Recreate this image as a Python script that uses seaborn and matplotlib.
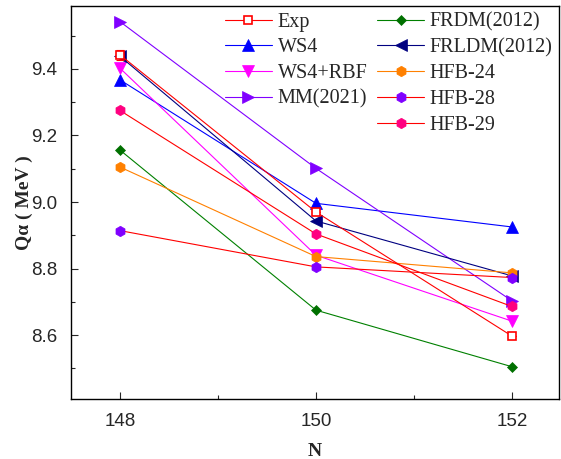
import numpy as np
import pandas as pd
import matplotlib
matplotlib.use("Agg")
import matplotlib.pyplot as plt
import seaborn as sns
from matplotlib.lines import Line2D

# neutron numbers
N = [148, 150, 152]

# Q-alpha values (MeV)
exp_q = [9.442, 8.970, 8.597]
ws4_q = [9.367, 8.996, 8.925]
ws4rbf_q = [9.402, 8.840, 8.642]
mm2021_q = [9.542, 9.101, 8.703]
frdm_q = [9.156, 8.675, 8.505]
frldm_q = [9.438, 8.943, 8.778]
hfb24_q = [9.105, 8.836, 8.787]
hfb28_q = [8.914, 8.805, 8.773]
hfb29_q = [9.275, 8.904, 8.686]

exp_err = [0.016, 0.0, 0.0]

models = ["Exp", "WS4", "WS4+RBF", "MM(2021)", "FRDM(2012)", "FRLDM(2012)",
          "HFB-24", "HFB-28", "HFB-29"]
values = [exp_q, ws4_q, ws4rbf_q, mm2021_q, frdm_q, frldm_q, hfb24_q, hfb28_q, hfb29_q]

# line colour, marker, marker face colour, marker size
styles = {
    "Exp": ("#ff0000", "s", "white", 6),
    "WS4": ("#0000ff", "^", "#0000ff", 8),
    "WS4+RBF": ("#ff00ff", "v", "#ff00ff", 8),
    "MM(2021)": ("#8000ff", ">", "#8000ff", 8),
    "FRDM(2012)": ("#008000", "D", "#007000", 5.5),
    "FRLDM(2012)": ("#000080", "<", "#000080", 8),
    "HFB-24": ("#ff8000", "h", "#ff8000", 7.5),
    "HFB-28": ("#ff0000", "h", "#8000ff", 7.5),
    "HFB-29": ("#ff0000", "h", "#ff0080", 7.5),
}

df = pd.DataFrame([(m, n, q) for m, vals in zip(models, values) for n, q in zip(N, vals)],
                  columns=["model", "N", "Q"])

sns.set_style("white")
plt.rcParams["font.family"] = ["Liberation Sans", "DejaVu Sans"]

fig = plt.figure(figsize=(5.61, 4.59), dpi=100)
ax = fig.add_axes([71 / 561, 1 - 399 / 459, 488 / 561, 393 / 459])

handles = {}
for m in models:
    col, mk, fc, ms = styles[m]
    sub = df[df["model"] == m]
    if m == "Exp":
        ax.errorbar(sub["N"], sub["Q"], yerr=exp_err, fmt="none", ecolor=col,
                    elinewidth=0.8, capsize=3, capthick=0.8, zorder=3)
    sns.lineplot(data=sub, x="N", y="Q", ax=ax, color=col, marker=mk,
                 markersize=ms, markerfacecolor=fc, markeredgecolor=fc if m != "Exp" else col,
                 markeredgewidth=1.2 if m == "Exp" else 0.5, linewidth=0.8, zorder=3 if m == "Exp" else 2)
    handles[m] = Line2D([], [], color=col, marker=mk, markersize=ms, markerfacecolor=fc,
                        markeredgecolor=fc if m != "Exp" else col,
                        markeredgewidth=1.2 if m == "Exp" else 0.5, linewidth=0.8)

blank = Line2D([], [], color="none")
order = ["Exp", "WS4", "WS4+RBF", "MM(2021)", None,
         "FRDM(2012)", "FRLDM(2012)", "HFB-24", "HFB-28", "HFB-29"]
leg_h = [handles[m] if m else blank for m in order]
leg_l = [m if m else "" for m in order]
ax.legend(leg_h, leg_l, ncol=2, loc="upper left", bbox_to_anchor=(0.312, 0.989),
          frameon=False, prop={"family": "Liberation Serif", "size": 14.5},
          handlelength=2.3, handletextpad=0.3, columnspacing=0.5,
          labelspacing=0.33, borderpad=0.1, borderaxespad=0.0)

ax.set_xlim(147.5, 152.48)
ax.set_ylim(8.408, 9.589)
ax.set_xticks([148, 150, 152])
ax.set_xticks([149, 151], minor=True)
ax.set_yticks([8.6, 8.8, 9.0, 9.2, 9.4])
ax.set_yticks([8.5, 8.7, 8.9, 9.1, 9.3, 9.5], minor=True)
ax.yaxis.set_major_formatter(matplotlib.ticker.FormatStrFormatter("%.1f"))
ax.tick_params(which="major", direction="in", length=5, width=0.8, labelsize=13.5,
               left=True, bottom=True, top=False, right=False)
ax.tick_params(axis="x", which="major", pad=10)
ax.tick_params(axis="y", which="major", pad=9.9)
ax.tick_params(which="minor", direction="in", length=3, width=0.8,
               left=True, bottom=True, top=False, right=False)
for s in ax.spines.values():
    s.set_color("black")
    s.set_linewidth(1.0)

ax.set_xlabel("N", family="Liberation Serif", fontweight="bold", fontsize=14, labelpad=9.5)
ax.set_ylabel("Q\u03b1 ( MeV )", family=["Liberation Serif", "DejaVu Serif"],
              fontweight="bold", fontsize=14, labelpad=-1.5)

fig.savefig("out.png", dpi=100)
